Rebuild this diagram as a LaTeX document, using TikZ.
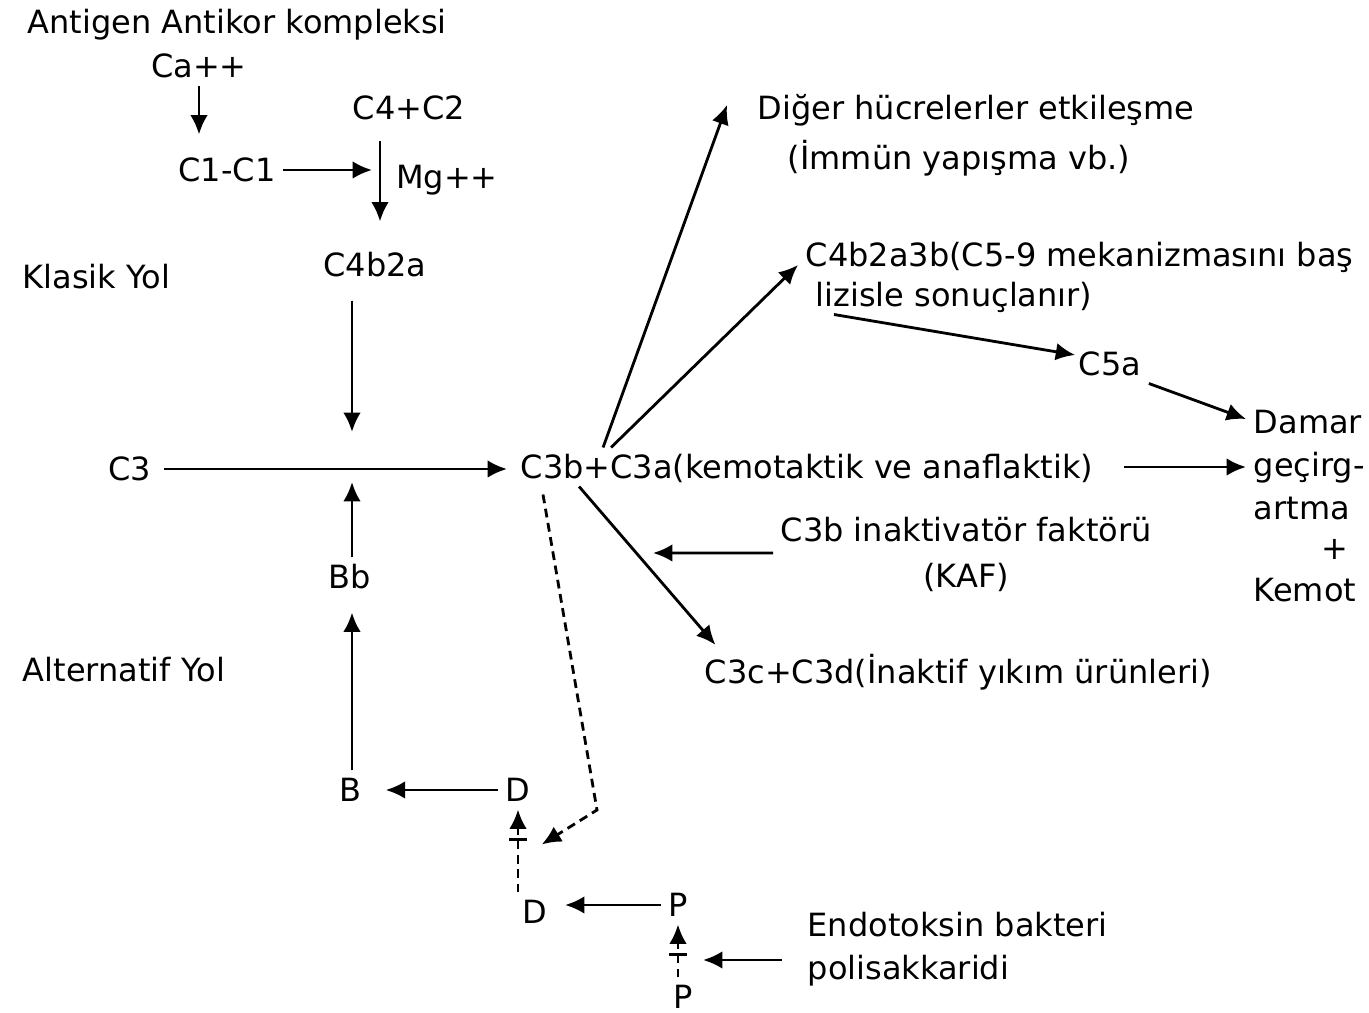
\documentclass[tikz,border=0pt]{standalone}
\usepackage{fontspec}
\setmainfont{DejaVu Sans}
\usetikzlibrary{arrows.meta, positioning, calc}

\begin{document}
\begin{tikzpicture}[
    x=0.01cm, y=-0.01cm,
    txt/.style={inner sep=2pt, text height=6.7pt, text depth=0pt,
                font=\fontsize{9.1}{11}\selectfont},
    arr/.style={-{Latex[length=5.5pt, width=5pt]}, line width=0.8pt},
    dasharr/.style={arr, dash pattern=on 2.5pt off 1.6pt},
    bararr/.style={-{Bar[width=5pt, line width=1pt, sep=2.5pt] Latex[length=5.5pt, width=5pt]},
                   line width=0.8pt, dash pattern=on 2.5pt off 1.6pt}
]
\useasboundingbox (0,0) rectangle (1369,1013);

% Klasik yol
\node[txt, anchor=west] (ag) at (20,22) {Antigen Antikor kompleksi};
\node[txt] (ca) at (199,66) {Ca++};
\node[txt] (c1c1) at (227,170) {C1-C1};
\node[txt] (c4c2) at (409,108) {C4+C2};
\node[txt] (mg) at (447,177) {Mg++};
\node[txt] (c4b2a) at (375,265) {C4b2a};
\node[txt, anchor=west] (klasik) at (15,277) {Klasik Yol};
\coordinate (mgj) at (380,175);
\coordinate (jn) at (352,469);

\draw[arr, shorten >=0.16cm] (ca.south) -- (ca.south |- c1c1.north);
\draw[arr, shorten >=0.08cm] (c1c1.east) -- (c1c1.east -| mgj);
\draw[arr, shorten <=0.13cm, shorten >=0.24cm] (c4c2.south -| mgj) -- (c4b2a.north -| mgj);
\draw[arr, shorten <=0.16cm, shorten >=0.37cm] (c4b2a.south -| jn) -- (jn);

% C3 yarilmasi
\node[txt] (c3) at (130,469) {C3};
\node[txt, anchor=west] (main) at (513,467) {C3b+C3a(kemotaktik ve anaflaktik)};
\draw[arr, shorten <=0.05cm, shorten >=0.06cm] (c3.east) -- (c3.east -| main.west);

% Alternatif yol
\node[txt] (bb) at (350,577) {Bb};
\node[txt, anchor=west] (alt) at (15,670) {Alternatif Yol};
\node[txt] (b) at (350,790) {B};
\node[txt] (dtop) at (518,790) {D};
\node[txt] (dbot) at (535,912) {D};
\node[txt] (ptop) at (678,905) {P};
\node[txt] (pbot) at (683,997) {P};

\draw[arr, shorten >=0.13cm] (bb.north -| jn) -- (jn);
\draw[arr, shorten >=0.16cm] (b.north -| jn) -- (bb.south -| jn);
\draw[arr, shorten >=0.17cm] (dtop.west) -- (b.east);
\draw[bararr] (dbot.north -| dtop) -- (dtop.south);
\draw[arr, shorten >=0.1cm] (ptop.west) -- (ptop.west -| dbot.east);
\draw[bararr] (pbot.north -| ptop) -- (ptop.south);

% Endotoksin
\coordinate (pmid) at (678,960);
\node[txt, anchor=west] (endo1) at (800,925) {Endotoksin bakteri};
\node[txt, below=0.04cm of endo1.south west, anchor=north west] (endo2) {polisakkaridi};
\draw[arr, shorten <=0.18cm, shorten >=0.25cm] (pmid -| endo2.west) -- (pmid);

% C3b -> D (kesikli)
\coordinate (dmid) at ($(dtop.south)!0.6!(dbot.north -| dtop)$);
\coordinate (kink) at (597,810);
\draw[dasharr, shorten >=0.28cm] ([xshift=0.3cm, yshift=-0.08cm]main.south west) -- (kink) -- (dmid);

% C3b+C3a sonuclari
\coordinate (plus) at ([xshift=0.9cm]main.north west);
\node[txt, anchor=west] (diger) at (750,108) {Diğer hücrelerler etkileşme};
\node[txt, anchor=west] (immun) at (780,158) {(İmmün yapışma vb.)};
\draw[arr] (plus) -- ([xshift=-0.23cm, yshift=0.03cm]diger.west);

\node[txt, anchor=west] (c4b) at (798,255) {C4b2a3b(C5-9 mekanizmasını baş};
\node[txt, anchor=west] (lizis) at (808,295) {lizisle sonuçlanır)};
\draw[arr] ([xshift=0.08cm]plus) -- ([yshift=-0.1cm]c4b.west);

\node[txt] (c5a) at (1110,364) {C5a};
\draw[arr] ([xshift=0.26cm]lizis.south west) -- ([xshift=0.04cm, yshift=0.09cm]c5a.west);

\node[txt, anchor=west] (damar) at (1246,422) {Damar};
\node[txt, below=0.04cm of damar.south west, anchor=north west] (gecirg) {geçirg-};
\node[txt, below=0.04cm of gecirg.south west, anchor=north west] (artma) {artma};
\node[txt] (plus2) at (1335,548) {+};
\node[txt, anchor=west] (kemot) at (1246,590) {Kemot};
\draw[arr] (c5a.south east) -- ([yshift=0.03cm]damar.west);
\draw[arr, shorten <=0.23cm] (main.east) -- (main.east -| gecirg.west);

% Inaktivasyon
\node[txt, anchor=west] (kaf1) at (773,530) {C3b inaktivatör faktörü};
\node[txt, below=0.07cm of kaf1] (kaf2) {(KAF)};
\node[txt, anchor=west] (c3c) at (697,672) {C3c+C3d(İnaktif yıkım ürünleri)};
\coordinate (inact) at (638,553);
\draw[arr, shorten >=0.1cm] ([xshift=0.66cm]main.south west) -- ([xshift=0.25cm]c3c.north west);
\draw[arr, shorten >=0.15cm] ($(kaf1.south west)!0.5!(kaf1.south west |- kaf2.north)$) -- (inact);
\end{tikzpicture}
\end{document}
